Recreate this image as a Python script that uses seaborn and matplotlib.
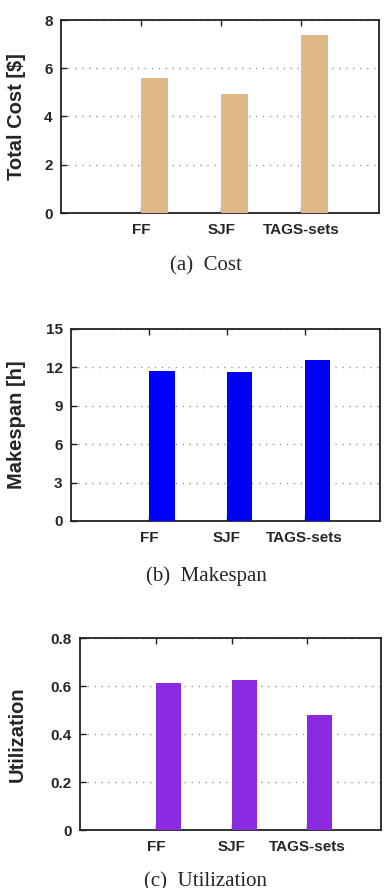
import matplotlib
matplotlib.use("Agg")
import matplotlib.pyplot as plt
import seaborn as sns
import pandas as pd

sns.set_style("ticks")
plt.rcParams['font.family'] = ['Liberation Sans', 'DejaVu Sans']

# data
schedulers = ["FF", "SJF", "TAGS-sets"]
cost = [5.59, 4.95, 7.36]
makespan = [11.7, 11.64, 12.55]
utilization = [0.613, 0.623, 0.481]

panels = [
    dict(vals=cost, color="#deb887", ylabel="Total Cost [$]", ylim=8,
         yticks=[0, 2, 4, 6, 8], ylabels=["0", "2", "4", "6", "8"],
         caption="(a)  Cost", box=(61, 20, 379, 213), cap_y=266),
    dict(vals=makespan, color="#0000ff", ylabel="Makespan [h]", ylim=15,
         yticks=[0, 3, 6, 9, 12, 15], ylabels=["0", "3", "6", "9", "12", "15"],
         caption="(b)  Makespan", box=(71, 329, 380, 521), cap_y=576),
    dict(vals=utilization, color="#8a2be2", ylabel="Utilization", ylim=0.8,
         yticks=[0, 0.2, 0.4, 0.6, 0.8], ylabels=["0", "0.2", "0.4", "0.6", "0.8"],
         caption="(c)  Utilization", box=(80, 638, 381, 830), cap_y=882),
]

W, H = 387, 888
fig = plt.figure(figsize=(W / 100, H / 100), dpi=100)

bw = 0.33
for p in panels:
    l, t, r, b = p["box"]
    ax = fig.add_axes([l / W, 1 - b / H, (r - l) / W, (b - t) / H])
    df = pd.DataFrame({"sched": schedulers, "val": p["vals"]})
    sns.barplot(data=df, x="sched", y="val", color=p["color"], width=bw,
                saturation=1, ax=ax, zorder=3, edgecolor=p["color"], linewidth=0)
    # gnuplot-style: ticks at the left edge of each bar
    ax.set_xticks([i - bw / 2 for i in range(len(schedulers))])
    ax.set_xticklabels(schedulers, fontsize=11, fontweight="bold")
    ax.set_xlim(-1 - bw / 2, 2.97 - bw / 2)
    ax.set_ylim(0, p["ylim"])
    ax.set_yticks(p["yticks"])
    ax.set_yticklabels(p["ylabels"], fontsize=11, fontweight="bold")
    ax.set_xlabel("")
    ax.set_ylabel(p["ylabel"], fontsize=14.5, fontweight="bold")
    ax.yaxis.set_label_coords((17 - l) / (r - l), 0.5)
    ax.yaxis.label.set_va("center")
    ax.tick_params(axis="x", direction="in", length=4, width=1, top=True,
                   bottom=True, pad=7, color="#222222")
    ax.tick_params(axis="y", direction="in", length=4, width=1, right=False,
                   pad=6, color="#222222")
    ax.yaxis.grid(True, linestyle=(0, (1, 4)), color="#999999", linewidth=1, zorder=0)
    for s in ax.spines.values():
        s.set_linewidth(1.3)
        s.set_color("#222222")
        s.set_visible(True)
    fig.text(206 / W, 1 - p["cap_y"] / H, p["caption"], ha="center", va="center",
             fontsize=15, family="Liberation Serif")

fig.savefig("out.png", dpi=100)
